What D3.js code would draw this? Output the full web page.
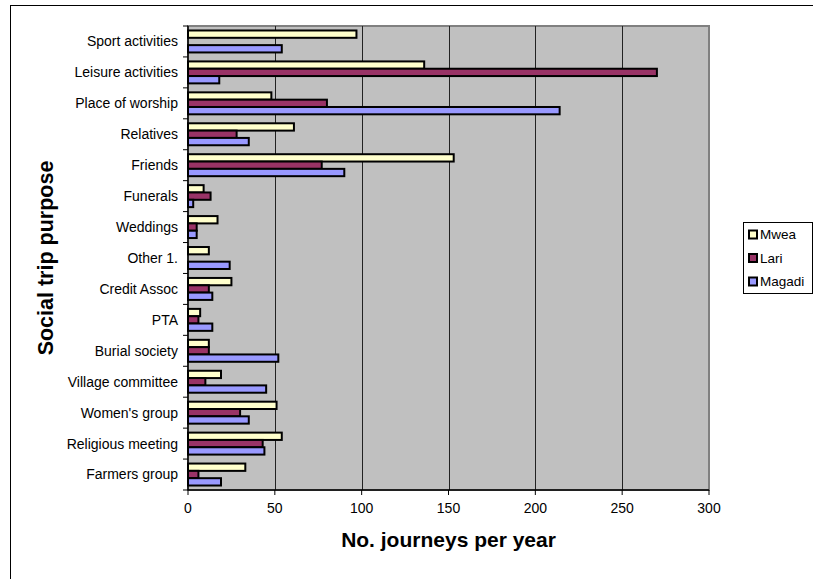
<!DOCTYPE html>
<html>
<head>
<meta charset="utf-8">
<script src="https://cdn.jsdelivr.net/npm/d3@7"></script>
<style>
body { margin:0; background:#fff; }
svg { display:block; font-family:"Liberation Sans", Arial, sans-serif; }
</style>
</head>
<body>
<script>
var categories = ["Sport activities","Leisure activities","Place of worship","Relatives","Friends",
    "Funerals","Weddings","Other 1.","Credit Assoc","PTA","Burial society","Village committee",
    "Women's group","Religious meeting","Farmers group"];
var seriesNames = ["Mwea","Lari","Magadi"];
var mwea   = [97,136,48,61,153,9,17,12,25,7,12,19,51,54,33];
var lari   = [0,270,80,28,77,13,5,0,12,6,12,10,30,43,6];
var magadi = [54,18,214,35,90,3,5,24,14,14,52,45,35,44,19];
var xTicks = [0,50,100,150,200,250,300];
var colors = ["#FFFFCC","#993366","#9999FF"];

var W=813, H=579;
var plotL=188, plotR=709, plotT=26, plotB=490;

var svg = d3.select("body").append("svg").attr("width",W).attr("height",H);

// outer chart border (runs off the page right and bottom)
svg.append("rect").attr("x",10.5).attr("y",5.5).attr("width",820).attr("height",600)
    .attr("fill","#fff").attr("stroke","#000").attr("stroke-width",1);

var x = d3.scaleLinear().domain([0,300]).range([plotL,plotR]);
var y0 = d3.scaleBand().domain(categories).range([plotT,plotB]).paddingInner(0.29).paddingOuter(0.145);
var y1 = d3.scaleBand().domain(seriesNames).range([0,y0.bandwidth()]);
var color = d3.scaleOrdinal().domain(seriesNames).range(colors);

// plot area
svg.append("rect").attr("x",plotL).attr("y",plotT).attr("width",plotR-plotL).attr("height",plotB-plotT)
    .attr("fill","#C0C0C0").attr("stroke","#808080").attr("stroke-width",2);

// gridlines
svg.append("g").selectAll("line").data(xTicks.filter(function(d){return d>0 && d<300;}))
    .enter().append("line")
    .attr("x1",function(d){return Math.round(x(d))+0.5;})
    .attr("x2",function(d){return Math.round(x(d))+0.5;})
    .attr("y1",plotT).attr("y2",plotB)
    .attr("stroke","#222").attr("stroke-width",1);

// bars
var rows = categories.map(function(c,i){
    return {cat:c, vals:[mwea[i],lari[i],magadi[i]]};
});
var groups = svg.append("g").selectAll("g").data(rows).enter().append("g")
    .attr("transform",function(d){return "translate(0,"+y0(d.cat)+")";});
groups.selectAll("rect")
    .data(function(d){return d.vals.map(function(v,j){return {name:seriesNames[j], v:v};});})
    .enter().append("rect")
    .filter(function(d){return d.v>0;})
    .attr("x",x(0))
    .attr("y",function(d){return y1(d.name);})
    .attr("width",function(d){return x(d.v)-x(0);})
    .attr("height",y1.bandwidth())
    .attr("fill",function(d){return color(d.name);})
    .attr("stroke","#000").attr("stroke-width",2);

// y axis
var yAxis = svg.append("g");
yAxis.append("line").attr("x1",plotL).attr("x2",plotL).attr("y1",plotT).attr("y2",plotB)
    .attr("stroke","#000").attr("stroke-width",1.5);
var step = y0.step();
yAxis.selectAll("line.tk").data(d3.range(categories.length+1)).enter().append("line")
    .attr("class","tk")
    .attr("x1",plotL-5).attr("x2",plotL)
    .attr("y1",function(i){return plotT+i*step;})
    .attr("y2",function(i){return plotT+i*step;})
    .attr("stroke","#000").attr("stroke-width",1);
yAxis.selectAll("text").data(categories).enter().append("text")
    .attr("x",178)
    .attr("y",function(d){return y0(d)+y0.bandwidth()/2;})
    .attr("dy","0.35em")
    .attr("text-anchor","end")
    .attr("font-size","14px")
    .attr("fill","#000")
    .text(function(d){return d;});

// x axis
var xAxis = svg.append("g");
xAxis.append("line").attr("x1",plotL).attr("x2",plotR).attr("y1",plotB).attr("y2",plotB)
    .attr("stroke","#000").attr("stroke-width",1.5);
xAxis.selectAll("line.tk").data(xTicks).enter().append("line")
    .attr("class","tk")
    .attr("x1",function(d){return x(d);}).attr("x2",function(d){return x(d);})
    .attr("y1",plotB).attr("y2",plotB+5)
    .attr("stroke","#000").attr("stroke-width",1);
xAxis.selectAll("text").data(xTicks).enter().append("text")
    .attr("x",function(d){return x(d);})
    .attr("y",513)
    .attr("text-anchor","middle")
    .attr("font-size","14px")
    .text(function(d){return d;});

// titles
svg.append("text").attr("x",(plotL+plotR)/2).attr("y",547)
    .attr("text-anchor","middle").attr("font-size","21px").attr("font-weight","bold")
    .text("No. journeys per year");
svg.append("text").attr("transform","rotate(-90)")
    .attr("x",-(plotT+plotB)/2).attr("y",53)
    .attr("text-anchor","middle").attr("font-size","21.5px").attr("font-weight","bold")
    .text("Social trip purpose");

// legend
var lg = svg.append("g");
lg.append("rect").attr("x",743.5).attr("y",222.5).attr("width",69).attr("height",71)
    .attr("fill","#fff").attr("stroke","#000").attr("stroke-width",1);
var items = lg.selectAll("g").data(seriesNames).enter().append("g")
    .attr("transform",function(d,i){return "translate(0,"+(234.5+i*23.5)+")";});
items.append("rect").attr("x",749).attr("y",-4).attr("width",8).attr("height",8)
    .attr("fill",function(d){return color(d);}).attr("stroke","#000").attr("stroke-width",2);
items.append("text").attr("x",760).attr("dy","0.35em").attr("font-size","13.5px")
    .text(function(d){return d;});
</script>
</body>
</html>
